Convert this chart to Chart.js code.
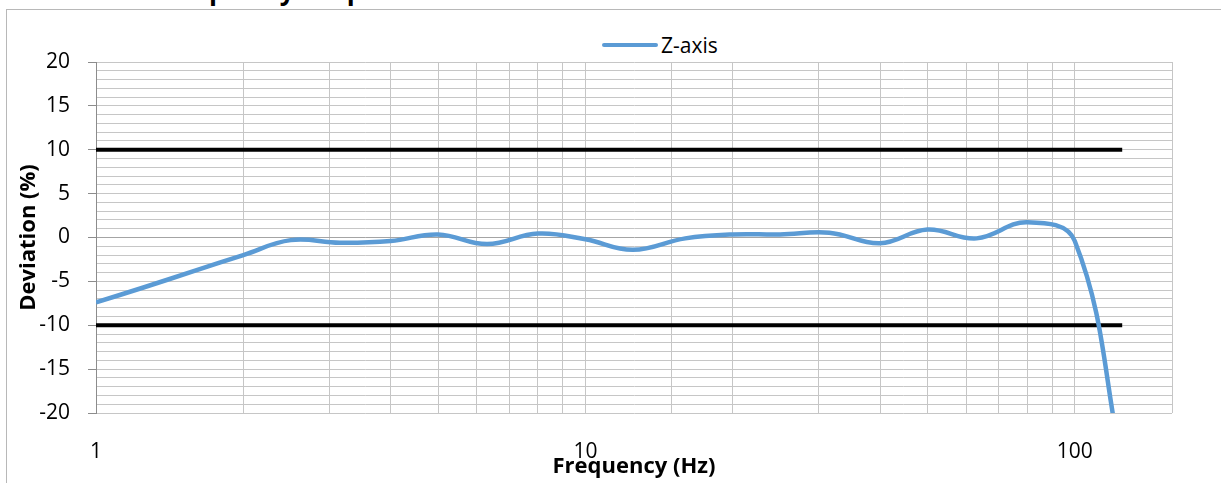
<!DOCTYPE html>
<html>
<head>
<meta charset="utf-8">
<title>Frequency Response</title>
<script src="https://cdn.jsdelivr.net/npm/chart.js@4.4.1/dist/chart.umd.min.js"></script>
<style>
  html, body { margin: 0; padding: 0; background: #fff; }
  #wrap { position: relative; width: 1221px; height: 483px; overflow: hidden; font-family: 'Open Sans', sans-serif; }
  #frame { position: absolute; left: 6px; top: 9px; width: 1400px; height: 600px;
           border-left: 1px solid #b8b8b8; border-top: 1px solid #b8b8b8; }
  #title { position: absolute; left: 159px; top: -23px; font-size: 26px; line-height: 26px;
           font-weight: bold; color: #000; white-space: nowrap; }
  #legend { position: absolute; left: 602px; top: 32px; height: 26px; display: flex; align-items: center; }
  #legend .swatch { width: 56px; height: 4px; border-radius: 2px; margin-right: 3px; }
  #legend .label { font-size: 21px; color: #000; }
  canvas { position: absolute; left: 0; top: 0; }
</style>
</head>
<body>
<div id="wrap">
  <div id="frame"></div>
  <div id="title">Frequency Response</div>
  <div id="legend"></div>
  <canvas id="chart" width="1221" height="483"></canvas>
</div>
<script>
// ===== Data =====
const frequencies = [1, 1.25, 1.6, 2, 2.5, 3.15, 4, 5, 6.3, 8, 10, 12.5, 16, 20, 25, 31.5, 40, 50, 63, 80, 100, 125];
const zAxis       = [-7.4, -5.7, -3.75, -2.0, -0.3, -0.6, -0.4, 0.35, -0.75, 0.45, -0.2, -1.4, -0.1, 0.35, 0.35, 0.55, -0.65, 0.9, -0.1, 1.75, -0.4, -26];

const limitFreqs  = [1, 125];
const upperLimit  = [10, 10];
const lowerLimit  = [-10, -10];

const xMin = 1;
const xMax = 158;
const xTickLabels = [1, 10, 100];
const yTickLabels = [-20, -15, -10, -5, 0, 5, 10, 15, 20];

const BLUE = '#5b9bd5';
const GRID = '#c6c6c6';
const AXIS = '#8c8c8c';

// ===== Helpers =====
const toPoints = (xs, ys) => xs.map((x, i) => ({ x, y: ys[i] }));

// ===== Chart =====
const datasets = [
  {
    label: 'Z-axis',
    data: toPoints(frequencies, zAxis),
    borderColor: BLUE,
    backgroundColor: BLUE,
    borderWidth: 4.5,
    pointRadius: 0,
    tension: 0.4,
  },
  {
    label: 'Upper limit',
    data: toPoints(limitFreqs, upperLimit),
    borderColor: '#000',
    borderWidth: 4,
    pointRadius: 0,
  },
  {
    label: 'Lower limit',
    data: toPoints(limitFreqs, lowerLimit),
    borderColor: '#000',
    borderWidth: 4,
    pointRadius: 0,
  },
];

const chart = new Chart(document.getElementById('chart'), {
  type: 'line',
  data: { datasets },
  options: {
    responsive: false,
    animation: false,
    devicePixelRatio: 1,
    layout: { padding: { top: 62, right: 49, bottom: 0, left: 0 } },
    plugins: {
      legend:  { display: false },
      tooltip: { enabled: false },
    },
    scales: {
      x: {
        type: 'logarithmic',
        min: xMin,
        max: xMax,
        afterFit: (scale) => { scale.height = 70; },
        grid: {
          // no minor gridlines past the last decade, only the right edge
          color: (ctx) => ctx.tick && ctx.tick.value > 100 && ctx.tick.value < xMax ? 'rgba(0,0,0,0)' : GRID,
          drawTicks: false,
        },
        border: { display: false },
        ticks: {
          autoSkip: false,
          maxRotation: 0,
          padding: 26,
          color: '#000',
          font: { family: 'Open Sans', size: 21 },
          callback: (v) => xTickLabels.includes(v) ? String(v) : '',
        },
        title: {
          display: true,
          text: 'Frequency (Hz)',
          color: '#000',
          font: { family: 'Open Sans', size: 22, weight: 'bold' },
          padding: { top: 0, bottom: 3 },
        },
      },
      y: {
        min: -20,
        max: 20,
        afterFit: (scale) => { scale.width = 96; },
        grid: {
          color: (ctx) => ctx.tick && ctx.tick.value === 0 ? '#a4a4a4' : GRID,
          tickLength: 8,
          tickColor: (ctx) => ctx.tick && yTickLabels.includes(ctx.tick.value) ? AXIS : 'rgba(0,0,0,0)',
        },
        border: { color: AXIS, width: 1 },
        ticks: {
          stepSize: 1,
          autoSkip: false,
          padding: 18,
          color: '#000',
          font: { family: 'Open Sans', size: 21 },
          callback: (v) => yTickLabels.includes(v) ? String(v) : '',
        },
        title: {
          display: true,
          text: 'Deviation (%)',
          color: '#000',
          font: { family: 'Open Sans', size: 22, weight: 'bold' },
          padding: { top: 16, bottom: 0 },
        },
      },
    },
  },
});

// ===== Legend =====
const legendEl = document.getElementById('legend');
const first = chart.data.datasets[0];
legendEl.innerHTML = `<span class="swatch" style="background:${first.borderColor}"></span><span class="label">${first.label}</span>`;
</script>
</body>
</html>
